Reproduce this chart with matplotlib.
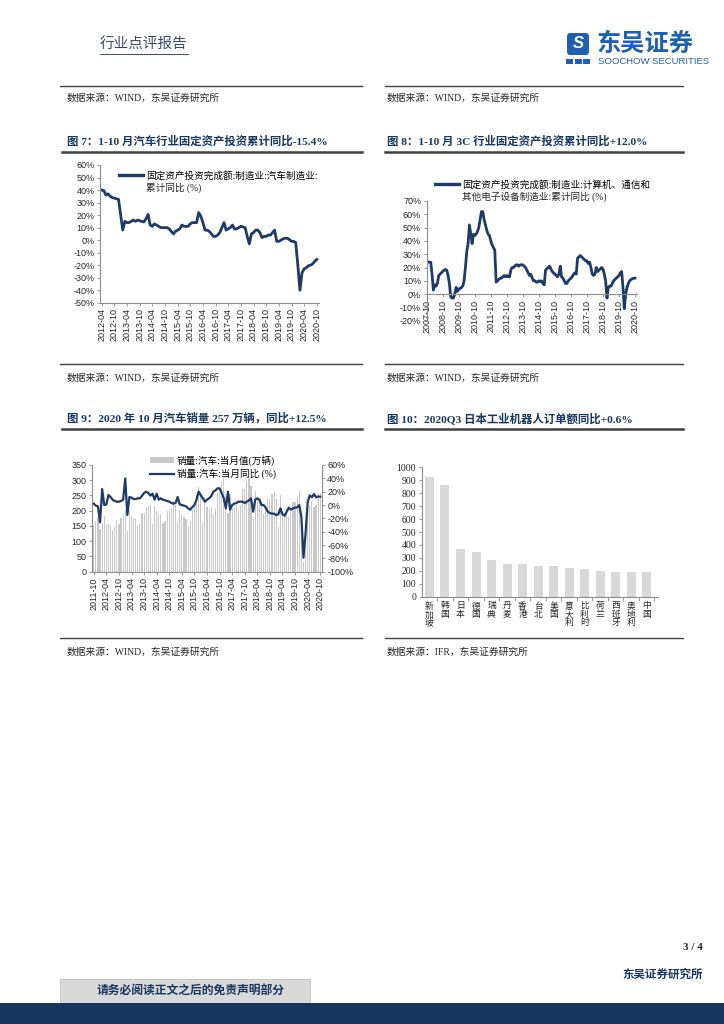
import numpy as np
import matplotlib
matplotlib.use("Agg")
import matplotlib.pyplot as plt
from matplotlib.lines import Line2D
from matplotlib.patches import Rectangle, FancyBboxPatch

plt.rcParams['font.family'] = ['Liberation Sans', 'Noto Sans CJK SC', 'DejaVu Sans']
plt.rcParams['axes.unicode_minus'] = False

# ---------------- data ----------------
# Fig 7: auto manufacturing FAI, cumulative YoY (%), monthly 2012-04 .. 2020-10
fai_auto_ticks = ['2012-04', '2012-10', '2013-04', '2013-10', '2014-04', '2014-10',
                  '2015-04', '2015-10', '2016-04', '2016-10', '2017-04', '2017-10',
                  '2018-04', '2018-10', '2019-04', '2019-10', '2020-04', '2020-10']
fai_auto = [40, 39.5, 36, 37, 35, 34, 33.5, 33, 32.5,
            20, 8, 15, 14, 14, 15, 16, 15, 16, 15.5, 15, 14.5,
            17, 20.5, 12, 11, 13, 12, 11, 10, 10, 10, 10, 9,
            7, 5, 7, 8, 9, 12, 11, 11, 11, 13, 14, 14,
            14, 22, 19, 14, 8, 8, 7, 5, 3, 3, 4, 6,
            10, 14, 8, 9, 10, 12, 9, 9, 10, 11, 10.5, 10,
            3, -3, 5, 6, 8, 8, 6, 2, 3, 3, 4, 4,
            6, 8, -1, -1, 0, 1, 1.5, 1.5, 0.5, -1, -1, -2,
            -20, -40, -26, -23, -22, -20.5, -20, -19, -17, -15.4]
fai_auto_label = ['固定资产投资完成额:制造业:汽车制造业:', '累计同比 (%)']

# Fig 8: 3C manufacturing FAI, cumulative YoY (%), monthly 2007-10 .. 2020-10
fai_3c_ticks = ['2007-10', '2008-10', '2009-10', '2010-10', '2011-10', '2012-10', '2013-10',
                '2014-10', '2015-10', '2016-10', '2017-10', '2018-10', '2019-10', '2020-10']
fai_3c = [25, 24, 24, 24, 15, 3, 7, 6, 8, 14, 15, 16, 17, 18, 18.5, 18, 14, 8, -2, -3,
          -3, 0, 5, 2, 4, 4, 5, 6, 10, 20, 32, 38, 52, 45, 38, 45, 44, 45, 47, 50,
          56, 62, 62, 56, 52, 48, 45, 44, 40, 37, 35, 33, 9, 10, 11, 12, 12, 13, 14, 13,
          14, 13, 13, 18, 20, 20, 21, 22, 22, 21, 22, 22, 22, 21, 20, 18, 16, 14, 15, 12,
          10, 10, 9, 9, 10, 9.5, 10, 8, 7, 18, 19, 20, 21, 19, 17, 16, 15, 14, 13, 15,
          21, 13, 12, 10, 8, 8, 10, 11, 12, 13, 15, 16, 15, 27, 28, 29, 28, 27, 26, 25,
          25, 23, 24, 20, 15, 14, 15, 20, 17, 18, 19, 20, 19, 15, 10, -3, 5, 6, 6, 8,
          10, 11, 12, 13, 14, 16, 17, 5, -11, 0, 5, 8, 10, 11, 11.5, 12, 12]
fai_3c_label = ['固定资产投资完成额:制造业:计算机、通信和', '其他电子设备制造业:累计同比 (%)']

# Fig 9: monthly auto sales (10k units) and YoY (%), 2011-10 .. 2020-10
sales_ticks = ['2011-10', '2012-04', '2012-10', '2013-04', '2013-10', '2014-04', '2014-10',
               '2015-04', '2015-10', '2016-04', '2016-10', '2017-04', '2017-10', '2018-04',
               '2018-10', '2019-04', '2019-10', '2020-04', '2020-10']
sales_units = [152, 166, 180,
               139, 160, 184, 158, 155, 152, 138, 146, 169, 158, 177, 185,
               204, 135, 203, 183, 175, 176, 151, 159, 192, 194, 212, 215,
               219, 158, 216, 200, 191, 189, 160, 167, 200, 198, 209, 231,
               219, 165, 203, 189, 181, 172, 151, 166, 203, 222, 250, 279,
               250, 159, 244, 212, 209, 213, 185, 208, 257, 262, 293, 306,
               252, 194, 254, 208, 210, 219, 198, 219, 271, 271, 297, 306,
               281, 172, 265, 232, 229, 227, 188, 210, 239, 238, 255, 266,
               237, 148, 252, 198, 191, 206, 181, 196, 227, 229, 246, 265,
               194, 31, 143, 207, 219, 230, 211, 219, 257, 257]
sales_yoy = [2, -1, -2,
             -26, 24, 0, 1, 15, 12, 8, 6, 5, 5, 6, 8,
             40, -15, 12, 11, 9, 9, 10, 10, 14, 18, 20, 18,
             14, 17, 8, 17, 8, 10, 8, 7, 6, 5, 3, 2,
             3, 12, 1, 0, -1, -2, -5, -7, -3, 0, 8, 20,
             15, 10, 5, 8, 10, 13, 20, 22, 25, 25, 18, 10,
             -5, 20, -7, 0, 2, 3, 5, 5, 5, 3, 5, 7,
             10, -10, 8, 10, 8, 0, 0, -4, -10, -12, -13, -13,
             -15, -14, -5, -14, -16, -10, -4, -7, -5, -4, -3.6, 0,
             -18, -79, -43, 4, 14.5, 11.6, 16.4, 11.6, 12.8, 12.5]
sales_bar_label = '销量:汽车:当月值(万辆)'
sales_line_label = '销量:汽车:当月同比 (%)'

# Fig 10: robot density by country/region
robot_regions = ['新加坡', '韩国', '日本', '德国', '瑞典', '丹麦', '香港', '台北',
                 '美国', '意大利', '比利时', '荷兰', '西班牙', '奥地利', '中国']
robot_values = [928, 863, 369, 348, 281, 250, 250, 240, 234, 224, 214, 201, 192, 191, 190]

# ---------------- styling ----------------
W, H = 724, 1024
NAVY = '#1f3a66'
TITLE_C = '#17365d'
SPINE_C = '#8c8c8c'
CJK = ['Liberation Serif', 'Noto Sans CJK SC', 'DejaVu Sans']
SANS = ['Liberation Sans', 'Noto Sans CJK SC', 'DejaVu Sans']
LEG_FS = 6.9

fig = plt.figure(figsize=(W / 100, H / 100), dpi=100)
fig.patch.set_facecolor('white')


def rect(x0, y0, x1, y1):
    return [x0 / W, 1 - y1 / H, (x1 - x0) / W, (y1 - y0) / H]


def ftext(x, y, s, **kw):
    kw.setdefault('va', 'center')
    return fig.text(x / W, 1 - y / H, s, **kw)


def hline(x0, x1, y, lw=1.0, color='#404040'):
    fig.add_artist(Line2D([x0 / W, x1 / W], [1 - y / H, 1 - y / H],
                          transform=fig.transFigure, lw=lw, color=color))


def style_axes(ax, fs=6.5):
    for s in ['top', 'right']:
        ax.spines[s].set_visible(False)
    for s in ['left', 'bottom']:
        ax.spines[s].set_color(SPINE_C)
        ax.spines[s].set_linewidth(0.8)
    ax.tick_params(axis='both', which='both', direction='out', length=2.5,
                   width=0.6, color=SPINE_C, labelsize=fs, pad=1.5, labelcolor='#262626')
    ax.set_facecolor('none')


# ---------------- page header ----------------
ftext(100, 45, '行业点评报告', family=CJK, fontsize=10.5, color='#3b4a66', ha='left')
hline(100, 188, 54, lw=0.7, color='#3b4a66')

logo = FancyBboxPatch((567 / W, 1 - 55 / H), 22 / W, 22 / H,
                      boxstyle='round,pad=0,rounding_size=0.004',
                      transform=fig.transFigure, fc='#1f5fb0', ec='none')
fig.add_artist(logo)
ftext(578, 44, 'S', family=SANS, fontsize=12, fontweight='bold', color='white',
      ha='center', style='italic')
for i in range(3):
    fig.add_artist(Rectangle(((566 + i * 8.5) / W, 1 - 64 / H), 7 / W, 5 / H,
                             transform=fig.transFigure, fc='#1f5fb0', ec='none'))
ftext(597, 44, '东吴证券', family=['Noto Sans CJK SC'], fontsize=17.5,
      fontweight='bold', color='#1f5fb0', ha='left')
ftext(598, 61, 'SOOCHOW SECURITIES', family=SANS, fontsize=6.8, color='#1f5fb0', ha='left')

# source lines (top, from previous charts)
hline(60, 362, 86)
hline(385, 683, 86)
ftext(67, 98, '数据来源：WIND，东吴证券研究所', family=CJK, fontsize=7, color='#262626', ha='left')
ftext(387, 98, '数据来源：WIND，东吴证券研究所', family=CJK, fontsize=7, color='#262626', ha='left')

# titles for charts
ftext(67, 141, '图 7：1-10 月汽车行业固定资产投资累计同比-15.4%', family=CJK, fontsize=8.2,
      fontweight='bold', color=TITLE_C, ha='left')
ftext(387, 141, '图 8：1-10 月 3C 行业固定资产投资累计同比+12.0%', family=CJK, fontsize=8.2,
      fontweight='bold', color=TITLE_C, ha='left')
hline(62, 362, 152, lw=1.8, color='#404040')
hline(385, 683, 152, lw=1.8, color='#404040')

ftext(67, 418, '图 9：2020 年 10 月汽车销量 257 万辆，同比+12.5%', family=CJK, fontsize=8.2,
      fontweight='bold', color=TITLE_C, ha='left')
ftext(387, 418, '图 10：2020Q3 日本工业机器人订单额同比+0.6%', family=CJK, fontsize=8.2,
      fontweight='bold', color=TITLE_C, ha='left')
hline(62, 362, 429, lw=1.8, color='#404040')
hline(385, 683, 429, lw=1.8, color='#404040')

# ---------------- Fig 7 ----------------
ax7 = fig.add_axes(rect(100, 165, 318.5, 302.7))
style_axes(ax7)
x7 = np.arange(len(fai_auto))
ax7.plot(x7, fai_auto, color=NAVY, lw=2.0, solid_joinstyle='round')
ax7.set_ylim(-50, 60)
ax7.set_yticks(np.arange(-50, 61, 10))
ax7.set_yticklabels([f'{v}%' for v in range(-50, 61, 10)])
ax7.set_xlim(-0.8, 102.8)
ax7.set_xticks(np.arange(0, len(fai_auto), 6))
ax7.set_xticklabels(fai_auto_ticks, rotation=90)

# ---------------- Fig 8 ----------------
ax8 = fig.add_axes(rect(426.7, 201, 637, 320.7))
style_axes(ax8)
x8 = np.arange(len(fai_3c))
ax8.plot(x8, fai_3c, color=NAVY, lw=2.0, solid_joinstyle='round')
ax8.set_ylim(-20, 70)
ax8.set_yticks(np.arange(-20, 71, 10))
ax8.set_yticklabels([f'{v}%' for v in range(-20, 71, 10)])
ax8.spines['bottom'].set_position(('data', 0))
ax8.set_xlim(0, 157.5)
ax8.set_xticks(np.arange(0, len(fai_3c), 12))
ax8.set_xticklabels(fai_3c_ticks, rotation=90)

# ---------------- Fig 9 ----------------
ax9 = fig.add_axes(rect(92.3, 465, 321.7, 571.7))
style_axes(ax9)
x9 = np.arange(len(sales_units))
bars9 = ax9.bar(x9, sales_units, width=0.55, color='#c8c8c8', label=sales_bar_label)
ax9.set_ylim(0, 350)
ax9.set_yticks(np.arange(0, 351, 50))
ax9.set_xlim(-0.7, 108.7)
ax9.set_xticks(np.arange(0, len(sales_units), 6))
ax9.set_xticklabels(sales_ticks, rotation=90)
ax9r = ax9.twinx()
style_axes(ax9r)
ax9r.spines['right'].set_visible(True)
ax9r.spines['right'].set_color(SPINE_C)
ax9r.spines['left'].set_visible(False)
ax9r.spines['bottom'].set_visible(False)
line9, = ax9r.plot(x9, sales_yoy, color=NAVY, lw=1.6, label=sales_line_label)
ax9r.set_ylim(-100, 60)
ax9r.set_yticks(np.arange(-100, 61, 20))
ax9r.set_yticklabels([f'{v}%' for v in range(-100, 61, 20)])
ax9r.set_xlim(-0.7, 108.7)
ax9.legend([bars9, line9], [sales_bar_label, sales_line_label], loc='upper left',
           bbox_to_anchor=(145 / W, 1 - 450 / H), bbox_transform=fig.transFigure,
           frameon=False, handlelength=2.5, handleheight=0.6,
           handletextpad=0.3, borderpad=0, labelspacing=0.3,
           prop={'family': CJK, 'size': LEG_FS})

# ---------------- Fig 10 ----------------
ax10 = fig.add_axes(rect(421.7, 467.3, 658.3, 596.7))
style_axes(ax10)
x10 = np.arange(len(robot_values))
ax10.bar(x10, robot_values, width=0.58, color='#d9d9d9')
ax10.set_ylim(0, 1000)
ax10.set_yticks(np.arange(0, 1001, 100))
ax10.set_yticklabels([str(v) for v in range(0, 1001, 100)], family='Liberation Serif', fontsize=7)
ax10.set_xlim(-0.5, 14.75)
ax10.set_xticks(x10)
ax10.set_xticklabels(['\n'.join(r) for r in robot_regions], family=CJK, fontsize=6.3,
                     linespacing=1.05, va='top')
ax10.tick_params(axis='x', which='major', length=0, pad=4)
ax10.set_xticks(np.arange(0.5, 14.6, 1), minor=True)
ax10.tick_params(axis='x', which='minor', length=3, direction='out', color=SPINE_C)

# ---------------- legends for line charts ----------------
leg7 = ax7.legend([Line2D([0], [0], color=NAVY, lw=2.4)], [fai_auto_label[0]],
                  loc='upper left', bbox_to_anchor=(114 / W, 1 - 166 / H),
                  bbox_transform=fig.transFigure, frameon=False, handlelength=2.5,
                  handletextpad=0.35, borderpad=0, prop={'family': CJK, 'size': LEG_FS})
leg8 = ax8.legend([Line2D([0], [0], color=NAVY, lw=2.4)], [fai_3c_label[0]],
                  loc='upper left', bbox_to_anchor=(430 / W, 1 - 175 / H),
                  bbox_transform=fig.transFigure, frameon=False, handlelength=2.5,
                  handletextpad=0.35, borderpad=0, prop={'family': CJK, 'size': LEG_FS})
fig.canvas.draw()
r = fig.canvas.get_renderer()
for leg, second, dy in [(leg7, fai_auto_label[1], 12), (leg8, fai_3c_label[1], 12.5)]:
    bb = leg.get_texts()[0].get_window_extent(r)
    x0 = bb.x0 / fig.dpi / (W / 100)
    yc = (bb.y0 + bb.y1) / 2 / fig.dpi / (H / 100) - dy / H
    fig.text(x0, yc, second, family=CJK, fontsize=LEG_FS, va='center', ha='left', color='#262626')

# ---------------- sources ----------------
hline(60, 362, 364)
hline(385, 683, 364)
ftext(67, 378, '数据来源：WIND，东吴证券研究所', family=CJK, fontsize=7, color='#262626', ha='left')
ftext(387, 378, '数据来源：WIND，东吴证券研究所', family=CJK, fontsize=7, color='#262626', ha='left')
hline(60, 362, 638)
hline(385, 683, 638)
ftext(67, 652, '数据来源：WIND，东吴证券研究所', family=CJK, fontsize=7, color='#262626', ha='left')
ftext(387, 652, '数据来源：IFR，东吴证券研究所', family=CJK, fontsize=7, color='#262626', ha='left')

# ---------------- footer ----------------
ftext(703, 948, '3 / 4', family=CJK, fontsize=8, fontweight='bold', color='#262626', ha='right')
ftext(703, 975, '东吴证券研究所', family=CJK, fontsize=8.3, fontweight='bold', color=TITLE_C, ha='right')
fig.add_artist(Rectangle((60 / W, 1 - 1004 / H), 250 / W, 25 / H, transform=fig.transFigure,
                         fc='#d9d9d9', ec='#bfbfbf', lw=0.6))
ftext(97, 992, '请务必阅读正文之后的免责声明部分', family=CJK, fontsize=8.5, fontweight='bold',
      color=TITLE_C, ha='left')
fig.add_artist(Rectangle((0, 0), 1, 21 / H, transform=fig.transFigure, fc='#17365d', ec='none'))

fig.savefig('out.png', dpi=100, facecolor='white')
